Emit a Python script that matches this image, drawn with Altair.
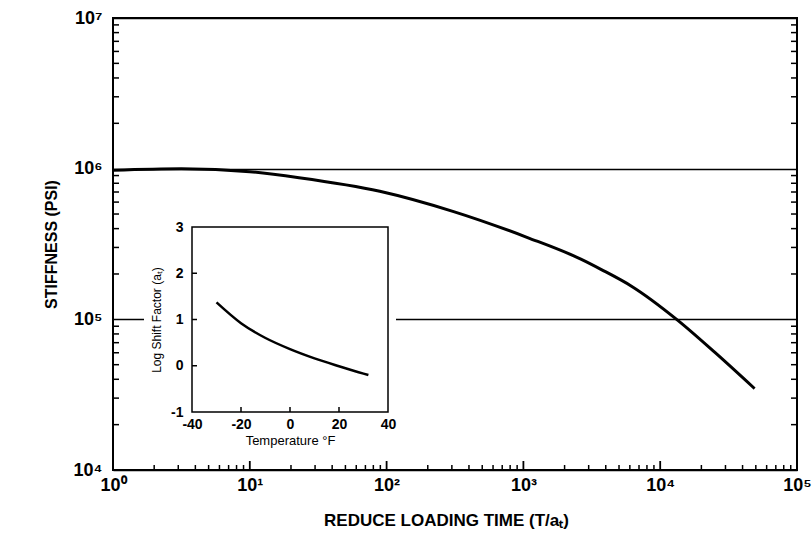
import altair as alt
import pandas as pd

# ---- data ----
time = [1, 3.16, 10, 22.9, 89.1, 309, 1072, 2630, 3715, 6166, 13183, 25119, 48978]
stiffness = [977000, 1000000, 955000, 871000, 708000, 519000, 349000, 251000,
             214000, 166000, 100000, 60300, 34700]

temperature = [-30, -20, -10, 0, 10, 20, 30, 32]
log_shift = [1.37, 0.92, 0.60, 0.36, 0.16, -0.01, -0.17, -0.20]

x_major = [1, 10, 100, 1000, 10000, 100000]
y_major = [1e4, 1e5, 1e6, 1e7]
x_minor = [m * 10 ** k for k in range(0, 5) for m in range(2, 10)]
x_inner_decades = [10, 100, 1000, 10000]
y_minor = [m * 10 ** k for k in range(4, 7) for m in range(2, 10)]
inset_x_labels = [-40, -20, 0, 20, 40]
inset_y_labels = [-1, 0, 1, 2, 3]
inset_x_ticks = [-20, 0, 20]
inset_y_ticks = [0, 1, 2]

# ---- layout ----
W, H = 684, 452
PL, PT = 113, 18
IX0, IX1 = 192 - PL, 388 - PL
IY0, IY1 = 227 - PT, 412 - PT
FONT = "Liberation Sans"

df_main = pd.DataFrame({"time": time, "stiffness": stiffness})
df_inset = pd.DataFrame({"temp": temperature, "shift": log_shift})
one = pd.DataFrame({"a": [0]})


def xs():
    return alt.Scale(type="log", domain=[1, 1e5], nice=False)


def ys():
    return alt.Scale(type="log", domain=[1e4, 1e7], nice=False)


def ixs():
    return alt.Scale(domain=[-40, 40], range=[IX0, IX1], nice=False, zero=False)


def iys():
    return alt.Scale(domain=[-1, 3], range=[IY1, IY0], nice=False, zero=False)


sup = "['\u2070','\u00b9','\u00b2','\u00b3','\u2074','\u2075','\u2076','\u2077']"
lab = "'10' + " + sup + "[round(log(datum.value)/LN10)]"
plain = "'' + datum.value"

curve = alt.Chart(df_main).mark_line(color="black", strokeWidth=3, interpolate="monotone").encode(
    x=alt.X("time:Q", scale=xs(), axis=alt.Axis(
        orient="bottom", values=x_major, labelExpr=lab, ticks=False, domain=False, grid=False,
        labelFont=FONT, labelFontSize=18, labelFontWeight="bold", labelColor="black",
        labelPadding=6, labelFlush=False, labelOverlap=False,
        title="REDUCE LOADING TIME (T/a\u209c)", titleFont=FONT, titleFontSize=17,
        titleFontWeight="bold", titleColor="black", titlePadding=18,
        titleX=333, titleAlign="center")),
    y=alt.Y("stiffness:Q", scale=ys(), axis=alt.Axis(
        orient="left", values=y_major, labelExpr=lab, ticks=False, domain=False, grid=True,
        gridColor="black", gridWidth=1.5, gridOpacity=1,
        labelFont=FONT, labelFontSize=18, labelFontWeight="bold", labelColor="black",
        labelPadding=11, labelFlush=False, labelOverlap=False, labelBaseline="middle",
        title="STIFFNESS (PSI)", titleFont=FONT, titleFontSize=16,
        titleFontWeight="bold", titleColor="black", titlePadding=14)),
)

bottom_minor = alt.Chart(pd.DataFrame({"v": x_minor})).mark_rule(color="black", strokeWidth=1.5).encode(
    x=alt.X("v:Q", scale=xs(), axis=None), y=alt.value(H), y2=alt.value(H - 5))
bottom_dec = alt.Chart(pd.DataFrame({"v": x_inner_decades})).mark_rule(color="black", strokeWidth=1.8).encode(
    x=alt.X("v:Q", scale=xs(), axis=None), y=alt.value(H), y2=alt.value(H - 9))
left_minor = alt.Chart(pd.DataFrame({"v": y_minor})).mark_rule(color="black", strokeWidth=1.5).encode(
    y=alt.Y("v:Q", scale=ys(), axis=None), x=alt.value(0), x2=alt.value(6))
right_minor = alt.Chart(pd.DataFrame({"v": y_minor})).mark_rule(color="black", strokeWidth=1.5).encode(
    y=alt.Y("v:Q", scale=ys(), axis=None), x=alt.value(W), x2=alt.value(W - 6))

bg = alt.Chart(one).mark_rect(color="white").encode(
    x=alt.value(IX0 - 48), x2=alt.value(IX1 + 8), y=alt.value(IY0 - 12), y2=alt.value(IY1 + 40))
frame = alt.Chart(one).mark_rect(fill="white", stroke="black", strokeWidth=1.5).encode(
    x=alt.value(IX0), x2=alt.value(IX1), y=alt.value(IY0), y2=alt.value(IY1))

inset_curve = alt.Chart(df_inset).mark_line(color="black", strokeWidth=2.5, interpolate="monotone").encode(
    x=alt.X("temp:Q", scale=ixs(), axis=alt.Axis(
        orient="bottom", offset=IY1 - H, values=inset_x_labels, labelExpr=plain,
        ticks=False, domain=False, grid=False, zindex=2,
        labelFont=FONT, labelFontSize=14, labelFontWeight="bold",
        labelColor="black", labelPadding=5, labelFlush=False, labelOverlap=False,
        title="Temperature \u00b0F", titleFont=FONT, titleFontSize=13, titleFontWeight="normal",
        titleColor="black", titlePadding=3)),
    y=alt.Y("shift:Q", scale=iys(), axis=alt.Axis(
        orient="left", offset=-IX0, values=inset_y_labels, labelExpr=plain,
        ticks=False, domain=False, grid=False, zindex=2,
        labelFont=FONT, labelFontSize=14, labelFontWeight="bold",
        labelColor="black", labelPadding=9, labelFlush=False, labelOverlap=False,
        labelBaseline="middle",
        title="Log Shift Factor (a\u209c)", titleFont=FONT, titleFontSize=12,
        titleFontWeight="normal", titleColor="black", titlePadding=7)),
)
inset_xt = alt.Chart(pd.DataFrame({"v": inset_x_ticks})).mark_rule(color="black", strokeWidth=1.5).encode(
    x=alt.X("v:Q", scale=ixs(), axis=None), y=alt.value(IY1), y2=alt.value(IY1 - 5))
inset_yt = alt.Chart(pd.DataFrame({"v": inset_y_ticks})).mark_rule(color="black", strokeWidth=1.5).encode(
    y=alt.Y("v:Q", scale=iys(), axis=None), x=alt.value(IX0), x2=alt.value(IX0 + 5))

chart = alt.layer(
    curve, bottom_minor, bottom_dec, left_minor, right_minor,
    bg, frame, inset_curve, inset_xt, inset_yt,
).resolve_scale(
    x="independent", y="independent"
).properties(
    width=W, height=H,
    padding={"left": PL, "top": PT, "right": 812 - PL - W, "bottom": 534 - PT - H},
    autosize=alt.AutoSizeParams(type="none"),
    background="white",
).configure(font=FONT).configure_view(stroke="black", strokeWidth=2)

chart.save("out.html", embed_options={"renderer": "svg", "actions": False})
